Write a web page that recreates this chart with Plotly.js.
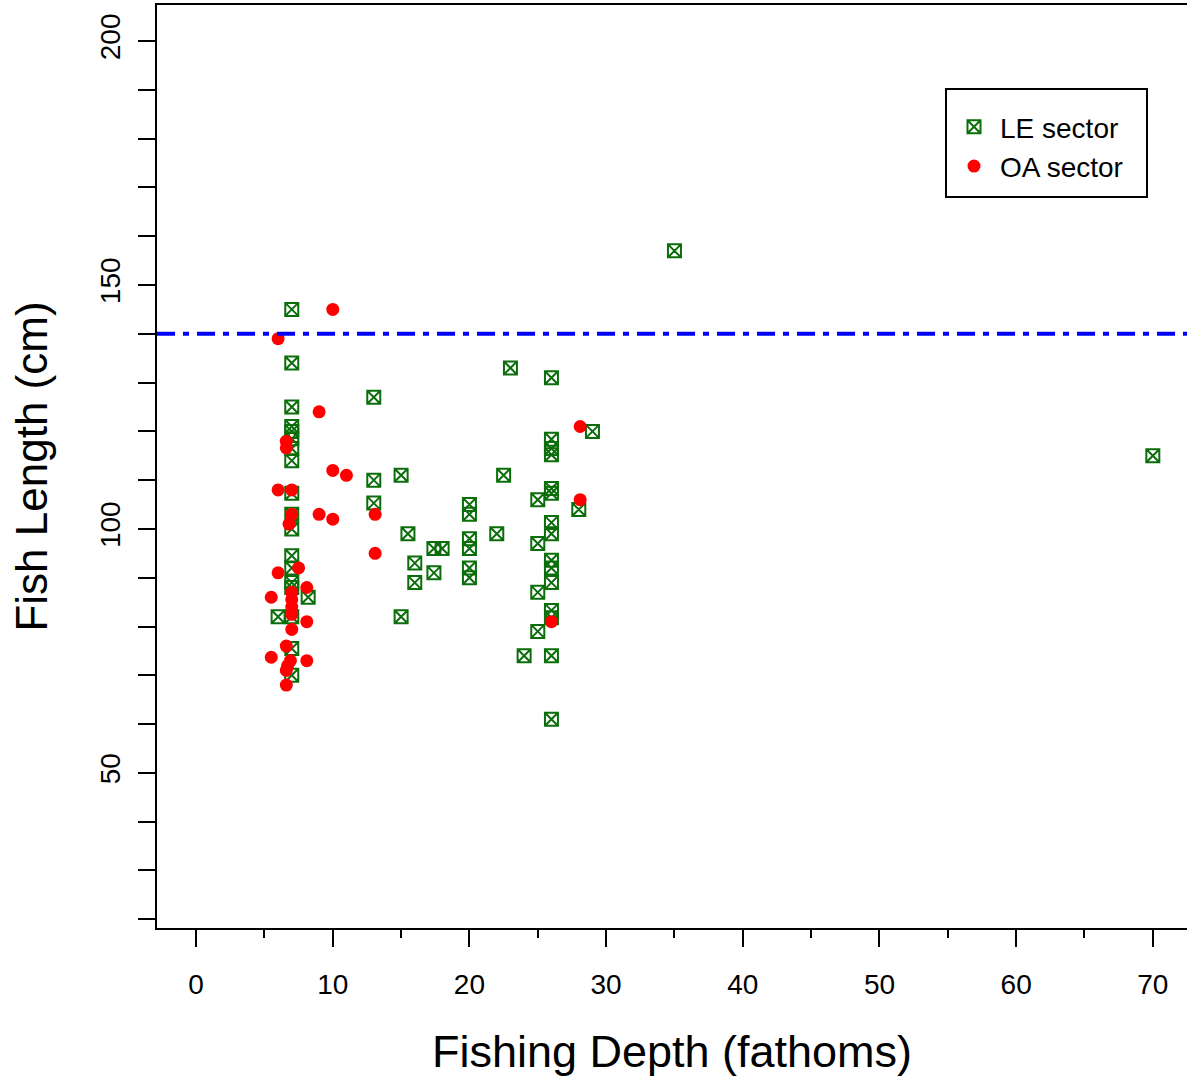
<!DOCTYPE html>
<html>
<head>
<meta charset="utf-8">
<script src="https://cdn.plot.ly/plotly-3.0.1.min.js"></script>
<style>html,body{margin:0;padding:0;background:#fff;}#chart{width:1187px;height:1080px;}</style>
</head>
<body>
<div id="chart"></div>
<script>
// LE sector (limited entry)
const leDepth = [7,7,7,7,7,7,7,7,7,7,7,7,7,7,7,7,7,7,
  8.2,6,13,13,13,15,15.5,15,16,16,17.4,18,17.4,20,20,20,20,20,20,22,22.5,23,24,25,25,25,25,
  26,26,26,26,26,26,26,26,26,26,26,26,26,26,26,28,29,35,70];
const leLength = [145,134,125,121,120,118.5,116.5,114,107.3,103,100,94.5,92,89,88,82,75.5,70,
  86,82,127,110,105.3,111,99,82,93,89,96,96,91,105,103,98,96,92,90,99,111,133,74,106,97,87,79,
  131,118.4,116.5,115.2,108.3,107.3,101.3,99,93.6,92,89,83.3,81.8,74,61,104,120,157,115];
// OA sector (open access)
const oaDepth = [10,6,9,6.6,6.6,10,11,6,7,7,9,10,13.1,6.8,13.1,28.1,28.1,26,7.5,6,8.1,5.5,
  7,7,7,7,8.1,7,6.6,5.5,6.9,6.7,8.1,6.6,6.6];
const oaLength = [145,139,124,118,116.6,112,111,108,108,103,103,102,103,101,95,121,106,81,92,91,88,86,
  87,85.5,84,82.5,81,79.4,76,73.7,73,72,73,71,68];
// Reference line
const refLength = 140;
const seriesNames = ["LE sector", "OA sector"];

const font = "Liberation Sans, Arial, Helvetica, sans-serif";

const traces = [
  {
    x: leDepth, y: leLength, name: seriesNames[0], type: "scatter", mode: "markers",
    marker: {symbol: "square-x-open", size: 13, color: "#0b6e0b", line: {width: 2, color: "#0b6e0b"}}
  },
  {
    x: oaDepth, y: oaLength, name: seriesNames[1], type: "scatter", mode: "markers",
    marker: {symbol: "circle", size: 13, color: "#ff0000"}
  }
];

const layout = {
  width: 1187, height: 1080,
  margin: {l: 157, r: 0, t: 5, b: 152},
  paper_bgcolor: "#fff", plot_bgcolor: "#fff",
  showlegend: true,
  font: {family: font, color: "#000", size: 28},
  xaxis: {
    range: [-2.86, 72.5], showgrid: false, zeroline: false,
    showline: true, mirror: true, linecolor: "#000", linewidth: 2,
    tickmode: "linear", tick0: 0, dtick: 10, ticks: "outside", ticklen: 17, tickwidth: 2, tickcolor: "#000",
    minor: {tick0: 0, dtick: 5, ticks: "outside", ticklen: 8, tickwidth: 2, tickcolor: "#000"},
    tickfont: {size: 28, family: font}, ticklabelstandoff: 13,
    title: {text: "Fishing Depth (fathoms)", font: {size: 45, family: font}, standoff: 37},
    automargin: false
  },
  yaxis: {
    range: [18.2, 207.4], showgrid: false, zeroline: false,
    showline: true, mirror: true, linecolor: "#000", linewidth: 2,
    tickmode: "linear", tick0: 0, dtick: 50, ticks: "outside", ticklen: 17, tickwidth: 2, tickcolor: "#000",
    minor: {tick0: 0, dtick: 10, ticks: "outside", ticklen: 17, tickwidth: 2, tickcolor: "#000"},
    tickfont: {size: 28, family: font}, tickangle: -90, ticklabelstandoff: 7,
    title: {text: "Fish Length (cm)", font: {size: 44, family: font}, standoff: 33},
    automargin: false
  },
  shapes: [
    {type: "line", xref: "paper", x0: 0, x1: 1, yref: "y", y0: refLength, y1: refLength,
     line: {color: "#0000ff", width: 4, dash: "18px,8px,6px,8px"}},
    {type: "rect", xref: "paper", yref: "paper", x0: (946-157)/1030, x1: (1147-157)/1030,
     y0: 1 - (197-5)/923, y1: 1 - (89-5)/923, line: {color: "#000", width: 2}}
  ],
  legend: {
    x: (948-157)/1030, y: 1 - (102-5)/923, xanchor: "left", yanchor: "top",
    bgcolor: "rgba(0,0,0,0)", borderwidth: 0, font: {size: 28, family: font},
    itemsizing: "trace", tracegroupgap: 0, itemwidth: 42
  }
};

Plotly.newPlot("chart", traces, layout, {staticPlot: true, displayModeBar: false});
</script>
</body>
</html>
